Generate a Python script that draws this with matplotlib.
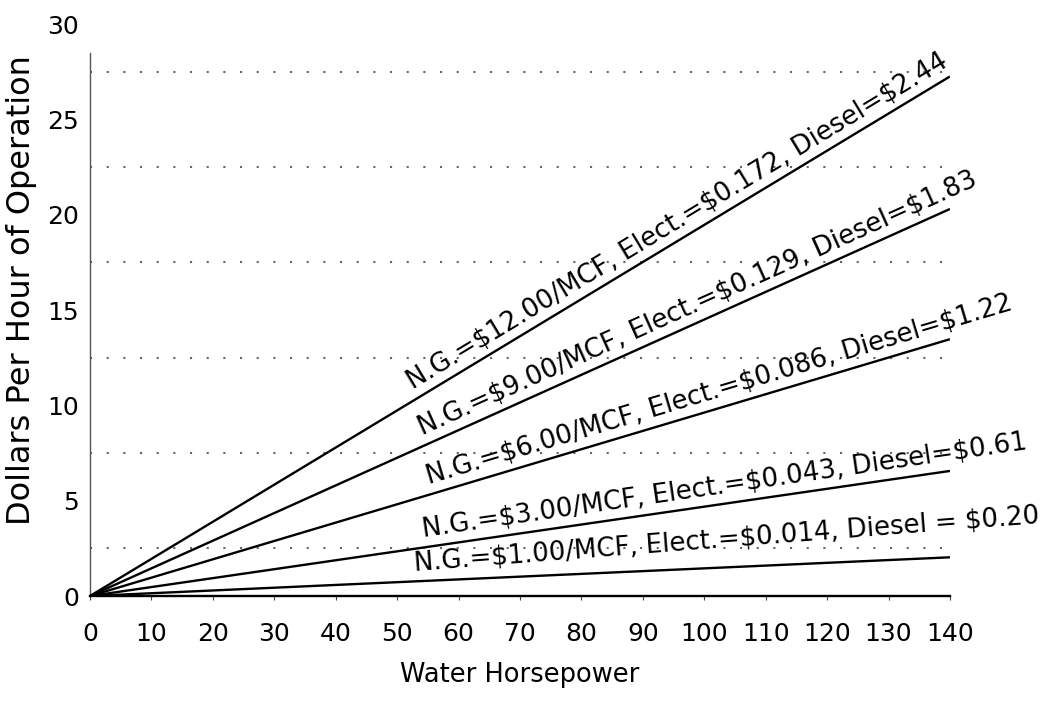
import matplotlib
matplotlib.use("Agg")
import matplotlib.pyplot as plt
import numpy as np

plt.rcParams['font.family'] = ['DejaVu Sans']

# Data
horsepower = [0, 140]
series_end_values = [27.25, 20.3, 13.47, 6.56, 2.03]
series_labels = [
    "N.G.=$12.00/MCF, Elect.=$0.172, Diesel=$2.44",
    "N.G.=$9.00/MCF, Elect.=$0.129, Diesel=$1.83",
    "N.G.=$6.00/MCF, Elect.=$0.086, Diesel=$1.22",
    "N.G.=$3.00/MCF, Elect.=$0.043, Diesel=$0.61",
    "N.G.=$1.00/MCF, Elect.=$0.014, Diesel = $0.20",
]
label_start_x = [53, 54.5, 55.5, 54.5, 53]
label_extra_rot = [0, 0, 0, 0, 1.8]
grid_levels = [2.5, 7.5, 12.5, 17.5, 22.5, 27.5]
x_ticks = list(range(0, 150, 10))
y_ticks = list(range(0, 35, 5))

fig = plt.figure(figsize=(10.5, 7.07), dpi=100)
ax = fig.add_axes([0.0857, 0.157, 0.819, 0.809])
ax.set_xlim(0, 140)
ax.set_ylim(0, 30)

for g in grid_levels:
    ax.plot([0, 140], [g, g], color='#666666', linestyle=(0, (1, 7)), linewidth=1.5, zorder=1)

for v in series_end_values:
    ax.plot(horsepower, [0, v], color='black', linewidth=1.7, zorder=3, solid_capstyle='butt')

for v, lab, xs, dr in zip(series_end_values, series_labels, label_start_x, label_extra_rot):
    ys = v / 140.0 * xs
    p0 = ax.transData.transform((0, 0))
    p1 = ax.transData.transform((140, v))
    ang = np.degrees(np.arctan2(p1[1] - p0[1], p1[0] - p0[0])) + dr
    ax.annotate(lab, xy=(xs, ys), xytext=(0, 3), textcoords='offset points',
                rotation=ang, rotation_mode='anchor', ha='left', va='bottom',
                fontsize=18.7, color='black', annotation_clip=False)

for s in ['top', 'right']:
    ax.spines[s].set_visible(False)
ax.spines['left'].set_color('#555555')
ax.spines['left'].set_linewidth(1.0)
ax.spines['bottom'].set_linewidth(1.7)
ax.spines['left'].set_bounds(0, 28.5)

ax.set_xticks(x_ticks)
ax.set_yticks(y_ticks)
ax.tick_params(axis='x', direction='out', length=3, width=0.8, colors='#444444',
               labelsize=18, labelcolor='black', pad=16)
ax.tick_params(axis='y', length=0, labelsize=18, pad=8)

ax.set_xlabel("Water Horsepower", fontsize=18.5, labelpad=11)
ax.set_ylabel("Dollars Per Hour of Operation", fontsize=23)
ax.yaxis.set_label_coords(-0.062, 0.535)

fig.savefig("out.png", dpi=100)
